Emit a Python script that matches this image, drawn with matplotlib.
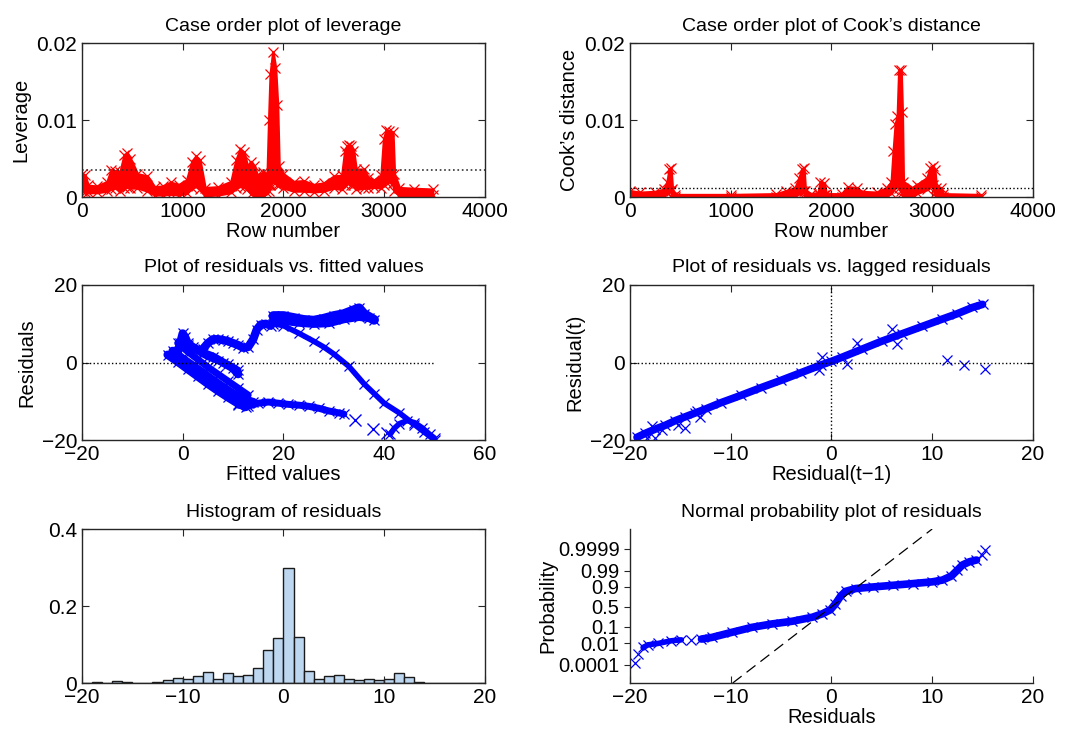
import math
import numpy as np
import matplotlib
matplotlib.use("Agg")
import matplotlib.pyplot as plt

plt.rcParams['font.family'] = ['Liberation Sans', 'DejaVu Sans']

# ---------------- data ----------------
# leverage: row number with lower / upper edge of the dense band of points
lev_rows = [0, 30, 60, 150, 250, 290, 330, 380, 420, 450, 480, 550, 650, 720, 800,
            880, 960, 1040, 1090, 1130, 1170, 1220, 1350, 1480, 1530, 1570, 1610, 1640,
            1680, 1710, 1740, 1800, 1840, 1855, 1870, 1895, 1920, 1940, 1955, 2000, 2100,
            2200, 2300, 2400, 2500, 2580, 2610, 2630, 2650, 2675, 2695, 2720, 2800, 2840,
            2900, 2970, 2995, 3020, 3050, 3085, 3100, 3150, 3300, 3480]
lev_lo = [0.0008, 0.0007, 0.0006, 0.0006, 0.0008, 0.0011, 0.0012, 0.0008, 0.0012, 0.0013,
          0.0012, 0.0012, 0.0008, 0.0003, 0.0003, 0.0004, 0.0003, 0.0005, 0.0012, 0.0014,
          0.0010, 0.0002, 0.0003, 0.0006, 0.0012, 0.0014, 0.0013, 0.0010, 0.0004, 0.0002,
          0.0002, 0.0002, 0.0005, 0.0008, 0.0015, 0.0020, 0.0018, 0.0016, 0.0015, 0.0012,
          0.0008, 0.0008, 0.0007, 0.0008, 0.0012, 0.0010, 0.0015, 0.0018, 0.0018, 0.0016,
          0.0015, 0.0010, 0.0012, 0.0012, 0.0013, 0.0012, 0.0015, 0.0020, 0.0020, 0.0018,
          0.0008, 0.0002, 0.0002, 0.0002]
lev_hi = [0.0030, 0.0028, 0.0015, 0.0014, 0.0020, 0.0035, 0.0034, 0.0033, 0.0055, 0.0057,
          0.0050, 0.0030, 0.0027, 0.0013, 0.0014, 0.0019, 0.0016, 0.0022, 0.0045, 0.0053,
          0.0048, 0.0012, 0.0013, 0.0020, 0.0048, 0.0062, 0.0058, 0.0040, 0.0046, 0.0040,
          0.0028, 0.0032, 0.0030, 0.0100, 0.0160, 0.0188, 0.0168, 0.0120, 0.0040, 0.0030,
          0.0020, 0.0021, 0.0016, 0.0018, 0.0027, 0.0028, 0.0060, 0.0066, 0.0068, 0.0066,
          0.0060, 0.0036, 0.0036, 0.0025, 0.0022, 0.0028, 0.0075, 0.0087, 0.0086, 0.0084,
          0.0030, 0.0012, 0.0011, 0.0010]
lev_cut = 0.00345

# Cook's distance: row number with lower / upper edge of the band
cook_rows = [0, 100, 250, 340, 370, 390, 405, 420, 450, 1000, 1450, 1550, 1640, 1680, 1705,
             1725, 1740, 1800, 1870, 1890, 1930, 1945, 2100, 2160, 2250, 2300, 2450, 2550,
             2595, 2615, 2635, 2655, 2670, 2690, 2702, 2712, 2800, 2850, 2950, 2980, 3005,
             3025, 3040, 3090, 3105, 3480]
cook_lo = [0.0, 0.0, 0.0001, 0.0003, 0.0005, 0.0008, 0.0008, 0.0, 0.0, 0.0, 0.0, 0.0,
           0.0002, 0.0005, 0.0008, 0.0008, 0.0, 0.0, 0.0, 0.0002, 0.0002, 0.0, 0.0, 0.0001,
           0.0002, 0.0, 0.0, 0.0002, 0.0005, 0.0010, 0.0015, 0.0015, 0.0012, 0.0008, 0.0005,
           0.0, 0.0, 0.0005, 0.0010, 0.0015, 0.0015, 0.0005, 0.0, 0.0, 0.0, 0.0]
cook_hi = [0.0008, 0.0006, 0.0007, 0.0010, 0.0020, 0.0036, 0.0038, 0.0010, 0.0003, 0.0003,
           0.0004, 0.0008, 0.0012, 0.0025, 0.0036, 0.0038, 0.0008, 0.0004, 0.0005, 0.0020,
           0.0018, 0.0004, 0.0004, 0.0013, 0.0012, 0.0007, 0.0006, 0.0012, 0.0020, 0.0060,
           0.0095, 0.0105, 0.0165, 0.0165, 0.0110, 0.0020, 0.0012, 0.0016, 0.0025, 0.0038,
           0.0040, 0.0035, 0.0012, 0.0012, 0.0004, 0.0003]
cook_cut = 0.00115

# residuals vs fitted values, one strand per visible band
rf_a_x = [-3, -1, 1, 3, 5, 7, 9, 11, 12.5]
rf_a_y = [2.0, 0.2, -1.7, -3.6, -5.5, -7.3, -9.0, -10.6, -11.5]
rf_b_x = [-2, 0, 2, 4, 6, 8, 10, 12, 14]
rf_b_y = [3.0, 1.0, -0.8, -2.6, -4.5, -6.3, -8.0, -9.5, -10.2]
rf_c_x = [-1, 1, 3, 5, 7, 9, 11, 13]
rf_c_y = [5.0, 2.8, 0.8, -1.2, -3.0, -4.8, -6.6, -8.4]
rf_d_x = [-1, -0.5, 0, 0.5, 1, 2, 4, 6, 8, 10, 11]
rf_d_y = [2.5, 5, 7.5, 6.5, 5, 4, 2.5, 1.5, 0, -1.5, -3]
rf_e_x = [-0.5, 1, 3, 5, 7, 9, 11]
rf_e_y = [4.0, 4.5, 3.0, 1.5, 0.5, -0.5, -2.0]
rf_wig_x = [4, 5, 6, 7, 8, 9, 10, 11, 12, 13, 14, 14.7, 15.5, 16.5, 17.5]
rf_wig_y = [3.5, 5, 6, 6, 5.8, 5.5, 5, 4.5, 3.8, 4, 6, 8.5, 9.8, 10, 9.5]
rf_top_x = [18, 20, 22, 24, 26, 28, 30, 32, 34, 35, 36, 38]
rf_top_y = [12, 12, 11.5, 11, 10.8, 11.3, 12, 12.5, 13.5, 14, 12.5, 11]
rf_top2_x = [18, 20, 23, 26, 29, 32, 35, 37]
rf_top2_y = [11, 10.8, 10.3, 10, 10.2, 11.2, 11.8, 11.5]
rf_diag_x = [18, 20, 23, 26, 28, 30, 33, 36, 38, 40, 43, 46, 48, 50]
rf_diag_y = [10, 9.5, 7.6, 5.5, 4, 2.2, -1, -5.5, -8, -10.5, -13, -16, -18, -20]
rf_low_x = [11, 13, 15, 17, 19, 21, 23, 25, 27, 29, 31, 32]
rf_low_y = [-11, -11.3, -10.5, -10.2, -10.5, -10.8, -11, -11.3, -11.8, -12.5, -13, -13.3]
rf_hook_x = [41.2, 42, 43, 44.5, 46, 47.5, 49, 50]
rf_hook_y = [-18.5, -17, -15.8, -15, -15.5, -16.8, -18.5, -19.5]
rf_lone_x = [34.2, 37.8, 40.5]
rf_lone_y = [-14.8, -17.2, -18.3]

# residual(t) vs residual(t-1)
lag_x = [-19.3, -18.5, -17.5, -16.5, -15.5, -14.5, -13.5, -12.5, -11, -9, -7, -5, -3, -1,
         0, 1, 3, 5, 7, 9, 11, 12.5, 14, 15]
lag_y = [-19.3, -18.3, -17.2, -16.2, -15.0, -14.0, -13.0, -12.0, -10.4, -8.5, -6.5, -4.6,
         -2.6, -0.6, 0.3, 1.3, 3.4, 5.5, 7.4, 9.3, 11.2, 12.6, 14.2, 15.0]
lag_out_x = [11.5, 13.2, 15.2, 6.0, 6.5, 2.5, -0.9, 1.5, -1.2, -14.5, -13.0, -13.3, -17.5,
             -18.3, -16.8, -15.2, -17.8]
lag_out_y = [0.7, -0.7, -1.6, 8.7, 4.8, 5.0, 1.5, -0.4, -2.0, -17.0, -14.0, -12.4, -19.5,
             -19.5, -17.5, -16.0, -16.5]

# histogram of residuals (bins of width 1 from -20 to 20, probability)
hist_left = list(range(-20, 20))
hist_height = [0.001, 0.003, 0.001, 0.004, 0.002, 0.0005, 0.0005, 0.002, 0.007, 0.013,
               0.010, 0.019, 0.028, 0.011, 0.025, 0.017, 0.022, 0.039, 0.087, 0.116,
               0.298, 0.119, 0.032, 0.010, 0.019, 0.022, 0.010, 0.009, 0.010, 0.008,
               0.011, 0.025, 0.016, 0.002, 0.001, 0.0005, 0.0, 0.0, 0.0, 0.0]

# normal probability plot: sorted residual vs normal quantile
npp_x = [-19.5, -19.2, -18.7, -18.2, -17.2, -15.9, -14.9, -13.9, -12.9, -11.9, -9.9, -7.9,
         -5.9, -3.9, -1.9, -0.9, -0.1, 0.4, 0.9, 1.4, 2.4, 4.1, 6.1, 8.1, 10.0, 11.0, 11.9,
         12.5, 13.0, 13.7, 14.4, 14.9, 15.2]
npp_z = [-3.59, -3.05, -2.61, -2.44, -2.35, -2.18, -2.12, -2.12, -2.07, -1.97, -1.64, -1.32,
         -1.10, -0.93, -0.67, -0.45, -0.19, 0.19, 0.67, 0.99, 1.17, 1.27, 1.38, 1.49, 1.60,
         1.71, 1.97, 2.35, 2.68, 2.89, 3.00, 3.33, 3.65]
npp_ref_x = [-9.8, 10.0]
npp_ref_z = [-4.89, 4.99]
npp_ticks = [0.0001, 0.01, 0.1, 0.5, 0.9, 0.99, 0.9999]
npp_tick_labels = ['0.0001', '0.01', '0.1', '0.5', '0.9', '0.99', '0.9999']


def probit(p):
    lo, hi = -10.0, 10.0
    for _ in range(80):
        mid = 0.5 * (lo + hi)
        if 0.5 * (1 + math.erf(mid / math.sqrt(2))) < p:
            lo = mid
        else:
            hi = mid
    return 0.5 * (lo + hi)


TICK_FS = 15
LAB_FS = 14.5
TITLE_FS = 14
RED = '#ff0000'
BLUE = '#0000ff'


def style(ax, box=True):
    for s in ax.spines.values():
        s.set_linewidth(1.0)
        s.set_color('#262626')
    ax.tick_params(direction='in', length=5, width=0.8, labelsize=TICK_FS,
                   top=box, right=box, colors='#262626', labelcolor='black')


fig = plt.figure(figsize=(10.8, 7.33), dpi=100)
L1, L2, W = 0.0759, 0.5833, 0.3731
ax1 = fig.add_axes([L1, 0.7312, W, 0.2101])
ax2 = fig.add_axes([L2, 0.7312, W, 0.2101])
ax3 = fig.add_axes([L1, 0.3997, W, 0.2115])
ax4 = fig.add_axes([L2, 0.3997, W, 0.2115])
ax5 = fig.add_axes([L1, 0.0682, W, 0.2101])
ax6 = fig.add_axes([L2, 0.0682, W, 0.2101])

# --- leverage
ax1.fill_between(lev_rows, lev_lo, lev_hi, color=RED, lw=2)
ax1.plot(lev_rows, lev_hi, 'x', color=RED, ms=7, mew=0.9)
ax1.plot(lev_rows, lev_lo, 'x', color=RED, ms=7, mew=0.9)
ax1.axhline(lev_cut, color='#333333', ls=':', lw=1.2)
ax1.set_xlim(0, 4000)
ax1.set_ylim(0, 0.02)
ax1.set_xticks([0, 1000, 2000, 3000, 4000])
ax1.set_yticks([0, 0.01, 0.02])
ax1.set_yticklabels(['0', '0.01', '0.02'])
ax1.set_xlabel('Row number', fontsize=LAB_FS, labelpad=1)
ax1.set_ylabel('Leverage', fontsize=LAB_FS)
ax1.set_title('Case order plot of leverage', fontsize=TITLE_FS, pad=9)
style(ax1)

# --- Cook's distance
ax2.fill_between(cook_rows, cook_lo, cook_hi, color=RED, lw=2)
ax2.plot(cook_rows, cook_hi, 'x', color=RED, ms=7, mew=0.9)
ax2.plot(cook_rows, cook_lo, 'x', color=RED, ms=7, mew=0.9)
ax2.axhline(cook_cut, color='black', ls=':', lw=1.0)
ax2.set_xlim(0, 4000)
ax2.set_ylim(0, 0.02)
ax2.set_xticks([0, 1000, 2000, 3000, 4000])
ax2.set_yticks([0, 0.01, 0.02])
ax2.set_yticklabels(['0', '0.01', '0.02'])
ax2.set_xlabel('Row number', fontsize=LAB_FS, labelpad=1)
ax2.set_ylabel("Cook\u2019s distance", fontsize=LAB_FS)
ax2.set_title("Case order plot of Cook\u2019s distance", fontsize=TITLE_FS, pad=9)
style(ax2)

# --- residuals vs fitted
strands = [(rf_a_x, rf_a_y, 6), (rf_b_x, rf_b_y, 6), (rf_c_x, rf_c_y, 5),
           (rf_d_x, rf_d_y, 6), (rf_e_x, rf_e_y, 5), (rf_wig_x, rf_wig_y, 6),
           (rf_top_x, rf_top_y, 7), (rf_top2_x, rf_top2_y, 6), (rf_diag_x, rf_diag_y, 4),
           (rf_low_x, rf_low_y, 5), (rf_hook_x, rf_hook_y, 4)]
for sx, sy, w in strands:
    ax3.plot(sx, sy, '-', color=BLUE, lw=w, solid_capstyle='round')
    ax3.plot(sx, sy, 'x', color=BLUE, ms=7, mew=0.9)
ax3.plot(rf_lone_x, rf_lone_y, 'x', color=BLUE, ms=8, mew=1.0)
ax3.plot([-20, 50], [0, 0], color='black', ls=':', lw=1.0)
ax3.set_xlim(-20, 60)
ax3.set_ylim(-20, 20)
ax3.set_xticks([-20, 0, 20, 40, 60])
ax3.set_yticks([-20, 0, 20])
ax3.set_xlabel('Fitted values', fontsize=LAB_FS, labelpad=1)
ax3.set_ylabel('Residuals', fontsize=LAB_FS)
ax3.set_title('Plot of residuals vs. fitted values', fontsize=TITLE_FS, pad=9)
style(ax3)

# --- lagged residuals
ax4.plot(lag_x, lag_y, '-', color=BLUE, lw=5.5, solid_capstyle='round')
ax4.plot(lag_x, lag_y, 'x', color=BLUE, ms=7, mew=0.9)
ax4.plot(lag_out_x, lag_out_y, 'x', color=BLUE, ms=7, mew=0.9)
ax4.axhline(0, color='black', ls=':', lw=1.0)
ax4.axvline(0, color='black', ls=':', lw=1.0)
ax4.set_xlim(-20, 20)
ax4.set_ylim(-20, 20)
ax4.set_xticks([-20, -10, 0, 10, 20])
ax4.set_yticks([-20, 0, 20])
ax4.set_xlabel('Residual(t\u22121)', fontsize=LAB_FS, labelpad=1)
ax4.set_ylabel('Residual(t)', fontsize=LAB_FS)
ax4.set_title('Plot of residuals vs. lagged residuals', fontsize=TITLE_FS, pad=9)
style(ax4)

# --- histogram
ax5.bar(hist_left, hist_height, width=1.0, align='edge', color='#bdd7f0',
        edgecolor='#1a1a1a', lw=1.0)
ax5.set_xlim(-20, 20)
ax5.set_ylim(0, 0.4)
ax5.set_xticks([-20, -10, 0, 10, 20])
ax5.set_yticks([0, 0.2, 0.4])
ax5.set_yticklabels(['0', '0.2', '0.4'])
ax5.set_title('Histogram of residuals', fontsize=TITLE_FS, pad=9)
style(ax5)

# --- normal probability plot
ax6.plot(npp_x[2:7], npp_z[2:7], '-', color=BLUE, lw=4, solid_capstyle='round')
ax6.plot(npp_x[8:31], npp_z[8:31], '-', color=BLUE, lw=5.5, solid_capstyle='round')
ax6.plot(npp_x, npp_z, 'x', color=BLUE, ms=7, mew=0.9)
ax6.plot(npp_ref_x, npp_ref_z, color='black', ls=(0, (9, 5)), lw=0.9)
ax6.set_xlim(-20, 20)
ax6.set_ylim(npp_ref_z[0], npp_ref_z[1])
ax6.set_xticks([-20, -10, 0, 10, 20])
ax6.set_yticks([probit(p) for p in npp_ticks])
ax6.set_yticklabels(npp_tick_labels)
ax6.spines['top'].set_visible(False)
ax6.spines['right'].set_visible(False)
ax6.set_xlabel('Residuals', fontsize=LAB_FS, labelpad=1)
ax6.set_ylabel('Probability', fontsize=LAB_FS, labelpad=0)
ax6.set_title('Normal probability plot of residuals', fontsize=TITLE_FS, pad=9)
style(ax6, box=False)
ax6.tick_params(axis='y', direction='out', length=4, labelsize=14.5)

fig.savefig('out.png', dpi=100)
